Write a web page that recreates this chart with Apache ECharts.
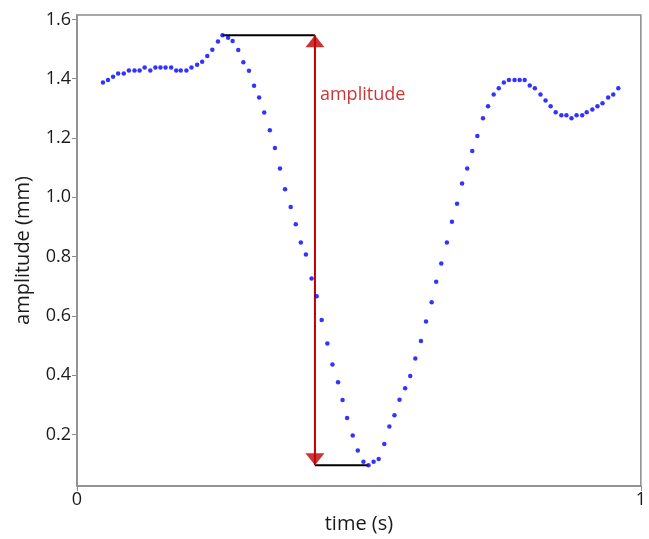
<!DOCTYPE html>
<html>
<head>
<meta charset="utf-8">
<script src="https://cdn.jsdelivr.net/npm/echarts@6/dist/echarts.min.js"></script>
<style>
  html, body { margin: 0; padding: 0; background: #fff; }
  #chart { width: 649px; height: 539px; }
</style>
</head>
<body>
<div id="chart"></div>
<script>
// Sampled trace: time (s) and amplitude (mm)
var times = [
  0.046, 0.055, 0.064, 0.073, 0.083, 0.092, 0.102, 0.111, 0.120, 0.130,
  0.139, 0.148, 0.157, 0.167, 0.176, 0.184, 0.194, 0.203, 0.213, 0.222,
  0.231, 0.240, 0.250, 0.258, 0.268, 0.276, 0.286, 0.295, 0.305, 0.314,
  0.323, 0.332, 0.342, 0.351, 0.360, 0.369, 0.379, 0.388, 0.397, 0.406,
  0.416, 0.425, 0.434, 0.444, 0.453, 0.463, 0.471, 0.479, 0.489, 0.498,
  0.508, 0.517, 0.526, 0.535, 0.545, 0.554, 0.563, 0.572, 0.582, 0.591,
  0.600, 0.610, 0.619, 0.629, 0.637, 0.646, 0.656, 0.665, 0.674, 0.683,
  0.692, 0.701, 0.710, 0.720, 0.729, 0.739, 0.748, 0.757, 0.766, 0.776,
  0.785, 0.794, 0.803, 0.812, 0.822, 0.831, 0.840, 0.849, 0.859, 0.868,
  0.877, 0.886, 0.896, 0.904, 0.914, 0.923, 0.932, 0.942, 0.951, 0.960
];
var amplitudes = [
  1.387, 1.396, 1.407, 1.418, 1.418, 1.428, 1.428, 1.428, 1.438, 1.428,
  1.438, 1.438, 1.438, 1.438, 1.428, 1.428, 1.428, 1.438, 1.447, 1.457,
  1.477, 1.498, 1.526, 1.547, 1.538, 1.527, 1.497, 1.456, 1.427, 1.376,
  1.337, 1.286, 1.226, 1.166, 1.097, 1.027, 0.967, 0.909, 0.848, 0.807,
  0.726, 0.666, 0.586, 0.507, 0.436, 0.376, 0.316, 0.256, 0.197, 0.146,
  0.108, 0.096, 0.108, 0.117, 0.168, 0.227, 0.265, 0.317, 0.356, 0.397,
  0.456, 0.515, 0.581, 0.646, 0.715, 0.777, 0.848, 0.918, 0.978, 1.047,
  1.097, 1.156, 1.207, 1.267, 1.307, 1.347, 1.368, 1.387, 1.396, 1.396,
  1.396, 1.396, 1.377, 1.368, 1.347, 1.327, 1.307, 1.287, 1.277, 1.277,
  1.267, 1.277, 1.277, 1.287, 1.296, 1.307, 1.317, 1.337, 1.347, 1.368
];
var yTicks = [0.2, 0.4, 0.6, 0.8, 1.0, 1.2, 1.4, 1.6];

// Amplitude annotation (peak to trough)
var peakTime = 0.258, peakAmp = 1.547;
var troughTime = 0.517, troughAmp = 0.096;
var arrowTime = 0.422;
var labelAmp = 1.345;

var chartDom = document.getElementById('chart');
var chart = echarts.init(chartDom, null, { renderer: 'canvas' });

var points = times.map(function (t, i) { return [t, amplitudes[i]]; });
var font = '"Open Sans", "Noto Sans", sans-serif';
var red = '#c00000';
var ink = '#1a1a1a';
var frame = '#8c8c8c';

chart.setOption({
  animation: false,
  textStyle: { fontFamily: font },
  grid: {
    left: 77, right: 4, top: 15, bottom: 40,
    show: true,
    borderColor: frame,
    borderWidth: 1.5
  },
  xAxis: {
    type: 'value',
    min: 0, max: 1, interval: 1,
    name: 'time (s)',
    nameLocation: 'middle',
    nameGap: 14,
    nameTextStyle: { fontSize: 20, color: ink, fontFamily: font },
    axisLine: { show: true, lineStyle: { color: frame, width: 1.5 } },
    axisTick: { show: true, length: 5, lineStyle: { color: frame } },
    axisLabel: { fontSize: 18, color: ink, margin: 5, fontFamily: font },
    splitLine: { show: false }
  },
  yAxis: {
    type: 'value',
    min: 0.026, max: 1.615,
    name: 'amplitude (mm)',
    nameLocation: 'middle',
    nameGap: 44,
    nameTextStyle: { fontSize: 20, color: ink, fontFamily: font },
    axisLine: { show: true, lineStyle: { color: frame, width: 1.5 } },
    axisTick: { show: true, length: 5, customValues: yTicks, lineStyle: { color: frame } },
    axisLabel: {
      fontSize: 18, color: ink, margin: 6, fontFamily: font,
      customValues: yTicks,
      formatter: function (v) { return v.toFixed(1); }
    },
    splitLine: { show: false }
  },
  series: [
    {
      name: 'trace',
      type: 'scatter',
      data: points,
      symbol: 'circle',
      symbolSize: 4.5,
      itemStyle: { color: '#0000ff' },
      z: 5
    },
    {
      name: 'peak level',
      type: 'line',
      data: [[peakTime, peakAmp], [arrowTime, peakAmp]],
      symbol: 'none',
      lineStyle: { color: '#000', width: 2 },
      z: 3
    },
    {
      name: 'trough level',
      type: 'line',
      data: [[arrowTime, troughAmp], [troughTime, troughAmp]],
      symbol: 'none',
      lineStyle: { color: '#000', width: 2 },
      z: 3
    },
    {
      name: 'amplitude arrow',
      type: 'line',
      data: [[arrowTime, peakAmp], [arrowTime, troughAmp]],
      symbol: 'none',
      lineStyle: { color: red, width: 2 },
      z: 4
    },
    {
      name: 'arrow heads',
      type: 'scatter',
      data: [
        { value: [arrowTime, peakAmp], symbolRotate: 0, symbolOffset: [0, 6] },
        { value: [arrowTime, troughAmp], symbolRotate: 180, symbolOffset: [0, -6] }
      ],
      symbol: 'triangle',
      symbolSize: [19, 12],
      itemStyle: { color: red },
      z: 6
    },
    {
      name: 'amplitude label',
      type: 'scatter',
      data: [[arrowTime, labelAmp]],
      symbolSize: 0,
      label: {
        show: true,
        position: 'right',
        distance: 5,
        formatter: 'amplitude',
        fontSize: 18,
        color: red,
        fontFamily: font
      },
      z: 6
    }
  ]
});
</script>
</body>
</html>
